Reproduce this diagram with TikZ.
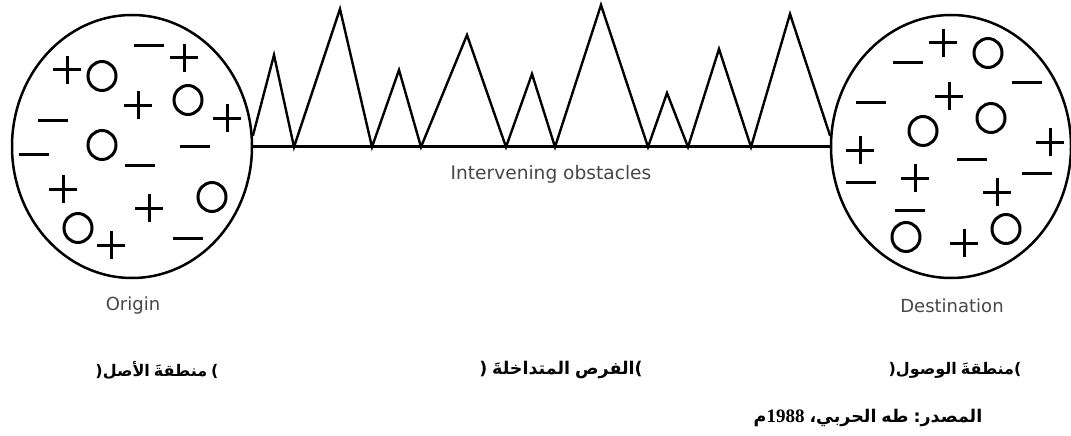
\documentclass[tikz,border=0pt]{standalone}
\usepackage{fontspec}
\usetikzlibrary{shapes.geometric}
\setsansfont{DejaVu Sans}
\newfontfamily\arabicfont[Script=Arabic]{DejaVu Sans}
\newfontfamily\numserif{Liberation Serif}
% each Arabic word is shaped on its own; words are set here in their visual (right-to-left) order
\newcommand\aw[1]{\hbox{\arabicfont\bfseries #1}}
\tikzset{
  sym/.style={line width=3pt},
  psym/.pic={\draw[sym] (-14,0) -- (14,0) (0,-14) -- (0,14);},
  msym/.pic={\draw[sym] (-15,0) -- (15,0);},
  osym/.pic={\draw[sym] (0,0) ellipse [x radius=14, y radius=14.5];},
  zone/.style={ellipse, draw, line width=2.5pt, minimum width=240, minimum height=263, inner sep=0pt},
  obst/.style={line width=2.4pt, line join=miter},
  lab/.style={font=\sffamily\fontsize{18}{20}\selectfont, text=black!72, inner sep=0pt},
  arlab/.style={font=\fontsize{17.5}{20}\selectfont, text=black, inner sep=0pt},
  arlabs/.style={arlab, font=\fontsize{16}{20}\selectfont},
}
\begin{document}
\begin{tikzpicture}[x=1pt,y=-1pt]
\fill[white] (0,0) rectangle (1071,436);
\useasboundingbox (0,0) rectangle (1071,436);

\node[zone] (orig) at (132,146.5) {};
\node[zone] (dest) at (951,146.5) {};

% baseline and obstacles
\draw[obst] (orig.east) -- (dest.west);
\draw[obst] (orig.5) -- (274,55) -- (294,147) -- (340,9) -- (372,147) -- (399,70)
  -- (421,147) -- (467,35) -- (506,147) -- (532,74) -- (555,147) -- (601,5)
  -- (648,147) -- (667,93) -- (688,147) -- (719,49) -- (751,147) -- (790,14) -- (dest.175);

% origin symbols
\pic at (67,70) {psym};
\pic at (102,76) {osym};
\pic at (149,46) {msym};
\pic at (184,58) {psym};
\pic at (138,105) {psym};
\pic at (188,100) {osym};
\pic at (227,118) {psym};
\pic at (53,120) {msym};
\pic at (102,145) {osym};
\pic at (34,154) {msym};
\pic at (140,165) {msym};
\pic at (195,146) {msym};
\pic at (63,189) {psym};
\pic at (149,208) {psym};
\pic at (212,197) {osym};
\pic at (78,228) {osym};
\pic at (111,245) {psym};
\pic at (188,238) {msym};

% destination symbols
\pic at (908,63) {msym};
\pic at (943,43) {psym};
\pic at (988,53) {osym};
\pic at (1027,83) {msym};
\pic at (871,102) {msym};
\pic at (949,96) {psym};
\pic at (923,131) {osym};
\pic at (991,118) {osym};
\pic at (1050,142) {psym};
\pic at (860,150) {psym};
\pic at (861,182) {msym};
\pic at (972,159) {msym};
\pic at (915,178) {psym};
\pic at (1037,173) {msym};
\pic at (997,192) {psym};
\pic at (910,210) {msym};
\pic at (906,237) {osym};
\pic at (964,243) {psym};
\pic at (1006,229) {osym};

% labels
\node[lab, font=\sffamily\fontsize{18.6}{20}\selectfont] (intv) at (551,174) {Intervening obstacles};
\node[lab] (olab) at (133,306) {Origin};
\node[lab] (dlab) at (952,306) {Destination};

\node[arlabs] (oar) at (157,370) {\aw{(}\aw{الأصل}\hspace{4pt}\aw{منطقةَ}\hspace{4pt}\aw{)}};
\node[arlab] (iar) at (561,370) {\aw{(}\hspace{5pt}\aw{المتداخلةَ}\hspace{5pt}\aw{الفرص}\aw{)}};
\node[arlabs] (dar) at (955,370) {\aw{(}\aw{الوصول}\hspace{4pt}\aw{منطقةَ}\aw{)}};
\node[arlab] (src) at (868,418) {\aw{م}\hbox{\numserif\bfseries\fontsize{19}{20}\selectfont 1988}\hspace{5pt}\aw{،}\aw{الحربي}\hspace{5pt}\aw{طه}\hspace{5pt}\aw{:}\aw{المصدر}};
\end{tikzpicture}
\end{document}
